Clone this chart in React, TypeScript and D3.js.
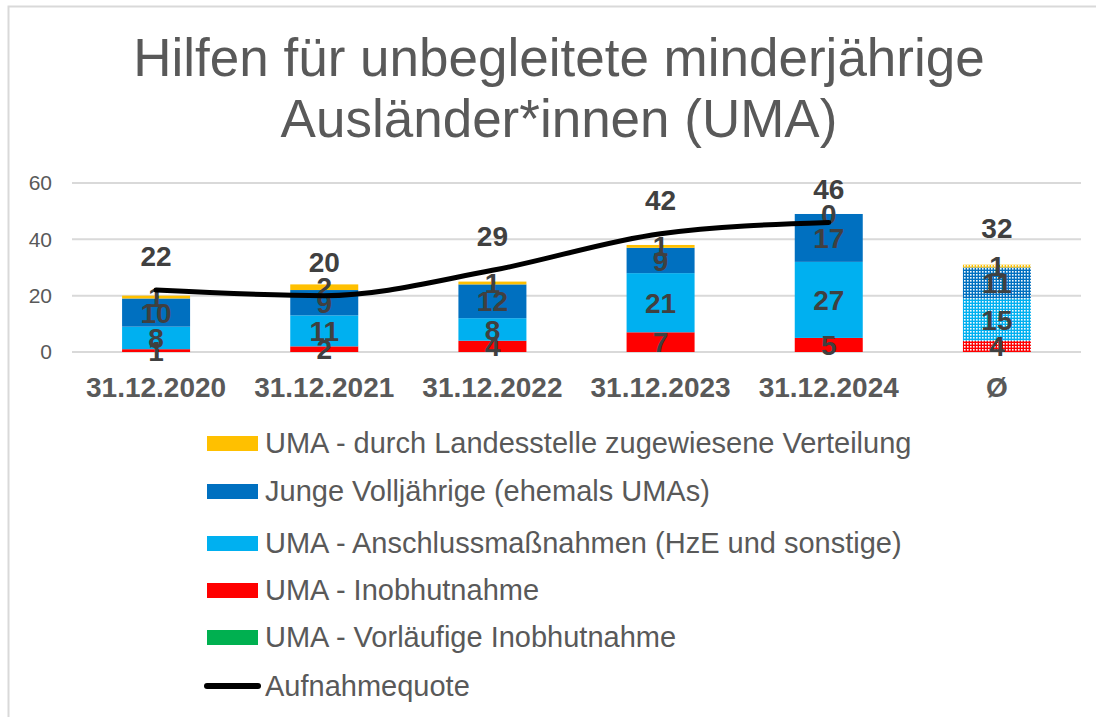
import React, { useEffect, useRef } from "react";
import * as d3 from "d3";

// categories and series
const categories = ["31.12.2020", "31.12.2021", "31.12.2022", "31.12.2023", "31.12.2024", "Ø"];
const vorlaeufig = [0, 0, 0, 0, 0, 0];
const inobhutnahme = [1, 2, 4, 7, 5, 4];
const anschluss = [8, 11, 8, 21, 27, 15];
const jungeVolljaehrige = [10, 9, 12, 9, 17, 11];
const landesstelle = [1, 2, 1, 1, 0, 1];
const aufnahmequote = [22, 20, 29, 42, 46, 32];
const yTicks = [0, 20, 40, 60];

const stackSeries = [
  { key: "vorl", name: "UMA - Vorläufige Inobhutnahme", color: "#00B050", values: vorlaeufig },
  { key: "inob", name: "UMA - Inobhutnahme", color: "#FF0000", values: inobhutnahme },
  { key: "ansc", name: "UMA - Anschlussmaßnahmen (HzE und sonstige)", color: "#00B0F0", values: anschluss },
  { key: "jung", name: "Junge Volljährige (ehemals UMAs)", color: "#0070C0", values: jungeVolljaehrige },
  { key: "land", name: "UMA - durch Landesstelle zugewiesene Verteilung", color: "#FFC000", values: landesstelle },
];

const FONT = "'Liberation Sans', Arial, sans-serif";

const App = () => {
  const svgRef = useRef<SVGSVGElement>(null);

  useEffect(() => {
    const svg = d3.select(svgRef.current);
    svg.selectAll("*").remove();

    const width = 1096;
    const height = 717;
    const plot = { left: 72, right: 1081, top: 183, bottom: 352 };

    svg.attr("width", width).attr("height", height);

    // patterns for the average (Ø) bar
    const defs = svg.append("defs");
    stackSeries.forEach(s => {
      const p = defs.append("pattern")
        .attr("id", `pat-${s.key}`)
        .attr("width", 3).attr("height", 3)
        .attr("patternUnits", "userSpaceOnUse");
      p.append("rect").attr("width", 3).attr("height", 3).attr("fill", s.color);
      p.append("rect").attr("x", 1).attr("y", 1).attr("width", 1.6).attr("height", 1.6).attr("fill", "#f4f9fc");
    });

    svg.append("rect").attr("width", width).attr("height", height).attr("fill", "#fff");

    // frame
    svg.append("path")
      .attr("d", `M8.5,${height} V6.5 H${width}`)
      .attr("fill", "none").attr("stroke", "#d9d9d9").attr("stroke-width", 2);

    // title
    const title = svg.append("text")
      .attr("text-anchor", "middle")
      .attr("font-family", FONT).attr("font-size", 53).attr("fill", "#595959");
    title.append("tspan").attr("x", 559).attr("y", 76).text("Hilfen für unbegleitete minderjährige");
    title.append("tspan").attr("x", 559).attr("y", 137).text("Ausländer*innen (UMA)");

    const x = d3.scaleBand().domain(categories).range([plot.left, plot.right]);
    const y = d3.scaleLinear().domain([0, 60]).range([plot.bottom, plot.top]);
    const barW = 68;

    // gridlines + y labels
    yTicks.forEach(t => {
      svg.append("line")
        .attr("x1", plot.left).attr("x2", plot.right)
        .attr("y1", y(t)).attr("y2", y(t))
        .attr("stroke", "#d9d9d9").attr("stroke-width", 2);
      svg.append("text")
        .attr("x", 52).attr("y", y(t)).attr("dy", "0.35em")
        .attr("text-anchor", "end")
        .attr("font-family", FONT).attr("font-size", 21).attr("fill", "#595959")
        .text(t);
    });

    // stacked bars
    const rows = categories.map((c, i) => {
      const r: any = { cat: c };
      stackSeries.forEach(s => { r[s.key] = s.values[i]; });
      return r;
    });
    const stacked = d3.stack().keys(stackSeries.map(s => s.key))(rows);

    stacked.forEach((layer, li) => {
      const s = stackSeries[li];
      layer.forEach((d, i) => {
        const cat = categories[i];
        const x0 = x(cat)! + x.bandwidth() / 2 - barW / 2;
        if (d[1] - d[0] > 0) {
          svg.append("rect")
            .attr("x", x0).attr("width", barW)
            .attr("y", y(d[1])).attr("height", y(d[0]) - y(d[1]))
            .attr("fill", cat === "Ø" ? `url(#pat-${s.key})` : s.color);
        }
      });
    });

    // stack labels (green series has no labels)
    stacked.forEach((layer, li) => {
      const s = stackSeries[li];
      if (s.key === "vorl") return;
      layer.forEach((d, i) => {
        const cat = categories[i];
        svg.append("text")
          .attr("x", x(cat)! + x.bandwidth() / 2)
          .attr("y", y((d[0] + d[1]) / 2)).attr("dy", "0.36em")
          .attr("text-anchor", "middle")
          .attr("font-family", FONT).attr("font-weight", "bold")
          .attr("font-size", 28).attr("fill", "#404040")
          .text(s.values[i]);
      });
    });

    // Aufnahmequote line (drawn for the dated categories)
    const cx = (c: string) => x(c)! + x.bandwidth() / 2;
    const line = d3.line<number>()
      .x((_, i) => cx(categories[i]))
      .y(d => y(d))
      .curve(d3.curveMonotoneX);
    svg.append("path")
      .datum(aufnahmequote.slice(0, 5))
      .attr("d", line)
      .attr("fill", "none").attr("stroke", "#000").attr("stroke-width", 5)
      .attr("stroke-linecap", "round");

    aufnahmequote.forEach((v, i) => {
      svg.append("text")
        .attr("x", cx(categories[i])).attr("y", y(v) - 34).attr("dy", "0.36em")
        .attr("text-anchor", "middle")
        .attr("font-family", FONT).attr("font-weight", "bold")
        .attr("font-size", 28).attr("fill", "#404040")
        .text(v);
    });

    // x labels
    categories.forEach(c => {
      svg.append("text")
        .attr("x", cx(c)).attr("y", 397)
        .attr("text-anchor", "middle")
        .attr("font-family", FONT).attr("font-weight", "bold")
        .attr("font-size", 28).attr("fill", "#595959")
        .text(c);
    });

    // legend
    const legendItems = [...stackSeries].reverse().map(s => ({ name: s.name, color: s.color, line: false }));
    legendItems.push({ name: "Aufnahmequote", color: "#000", line: true });
    const legendY = [443, 491, 543, 590, 637, 686];
    legendItems.forEach((it, i) => {
      const ly = legendY[i];
      if (it.line) {
        svg.append("line")
          .attr("x1", 207).attr("x2", 258).attr("y1", ly).attr("y2", ly)
          .attr("stroke", "#000").attr("stroke-width", 6).attr("stroke-linecap", "round");
      } else {
        svg.append("rect")
          .attr("x", 207).attr("y", ly - 7).attr("width", 51).attr("height", 15)
          .attr("fill", it.color);
      }
      svg.append("text")
        .attr("x", 265).attr("y", ly).attr("dy", "0.35em")
        .attr("font-family", FONT).attr("font-size", 29).attr("fill", "#595959")
        .text(it.name);
    });
  }, []);

  return <svg ref={svgRef} style={{ position: "absolute", left: 0, top: 0 }}></svg>;
};

export default App;
